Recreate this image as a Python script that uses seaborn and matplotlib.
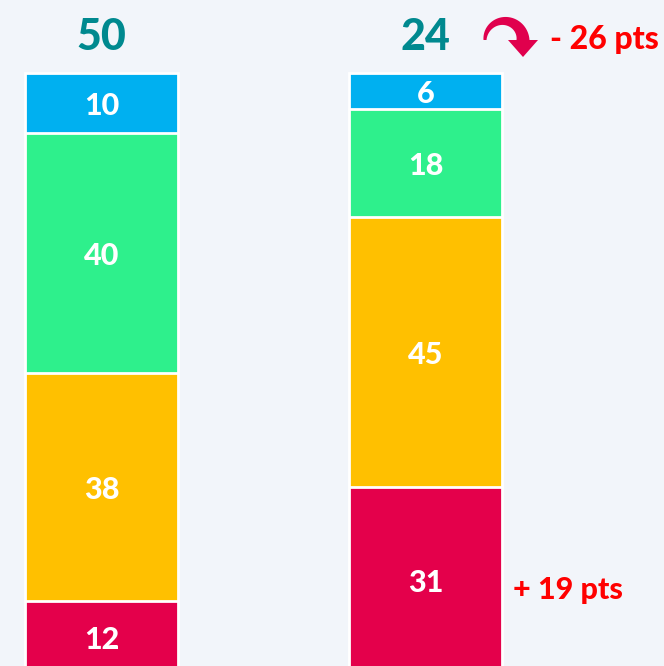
import numpy as np
import pandas as pd
import seaborn as sns
from matplotlib import pyplot as plt
from matplotlib.patches import Polygon

# data
periods = ['Before', 'After']
segments = ['Low', 'Mid', 'High', 'Top']          # bottom -> top of each bar
low = [12, 31]
mid = [38, 45]
high = [40, 18]
top = [10, 6]
headline = [50, 24]                                 # high + top
change_top = '- 26 pts'
change_low = '+ 19 pts'

seg_colors = ['#e4004b', '#ffc000', '#2ef08c', '#00b0f0']
bg = '#f2f5fa'
teal = '#00898f'
red_txt = '#ff0000'

sns.set_style('white')
plt.rcParams['font.family'] = ['Lato', 'DejaVu Sans']

df = pd.DataFrame({'period': periods, 'Low': low, 'Mid': mid, 'High': high, 'Top': top})
cum = df[segments].cumsum(axis=1)

W, H = 664, 666
fig = plt.figure(figsize=(W / 100, H / 100), dpi=100, facecolor=bg)
ax = fig.add_axes([0, 0, 1, 1])
ax.set_facecolor(bg)

# stacked bars: draw cumulative totals from the top segment down
for seg, col in zip(segments[::-1], seg_colors[::-1]):
    sns.barplot(x=df['period'], y=cum[seg], color=col, width=0.472,
                edgecolor='white', linewidth=2, ax=ax, saturation=1)

# segment labels
for i in range(len(periods)):
    bottom = 0
    for seg in segments:
        v = df.loc[i, seg]
        ax.text(i, bottom + v / 2, str(v), ha='center', va='center_baseline',
                color='white', fontsize=22, fontweight='black')
        bottom += v
    ax.text(i, 106.6, str(headline[i]), ha='center', va='center_baseline',
            color=teal, fontsize=31, fontweight='black')

# change annotations
ax.text(1.385, 106.0, change_top, ha='left', va='center_baseline', color=red_txt,
        fontsize=23, fontweight='black')
ax.text(1.27, 14.3, change_low, ha='left', va='center_baseline', color=red_txt,
        fontsize=22, fontweight='black')

# curved "down" arrow (shape only, in pixel units from the top-left)
cx, cy, r = 504, 40, 19
th = np.linspace(np.pi, 0, 40)
w = np.linspace(3, 13, 40)
outer = np.c_[cx + (r + w / 2) * np.cos(th), cy - (r + w / 2) * np.sin(th)]
inner = np.c_[cx + (r - w / 2) * np.cos(th), cy - (r - w / 2) * np.sin(th)][::-1]
head = np.array([[538, cy], [523, 57], [508, cy]])
pts = np.vstack([outer, head, inner])
pts = np.c_[pts[:, 0] / W, 1 - pts[:, 1] / H]
fig.patches.append(Polygon(pts, closed=True, transform=fig.transFigure,
                           facecolor='#e0004d', edgecolor='none'))

ax.set_xlim(-0.313, 1.736)
ax.set_ylim(1.17, 112.17)
ax.axis('off')

fig.savefig('out.png', dpi=100, facecolor=bg)
